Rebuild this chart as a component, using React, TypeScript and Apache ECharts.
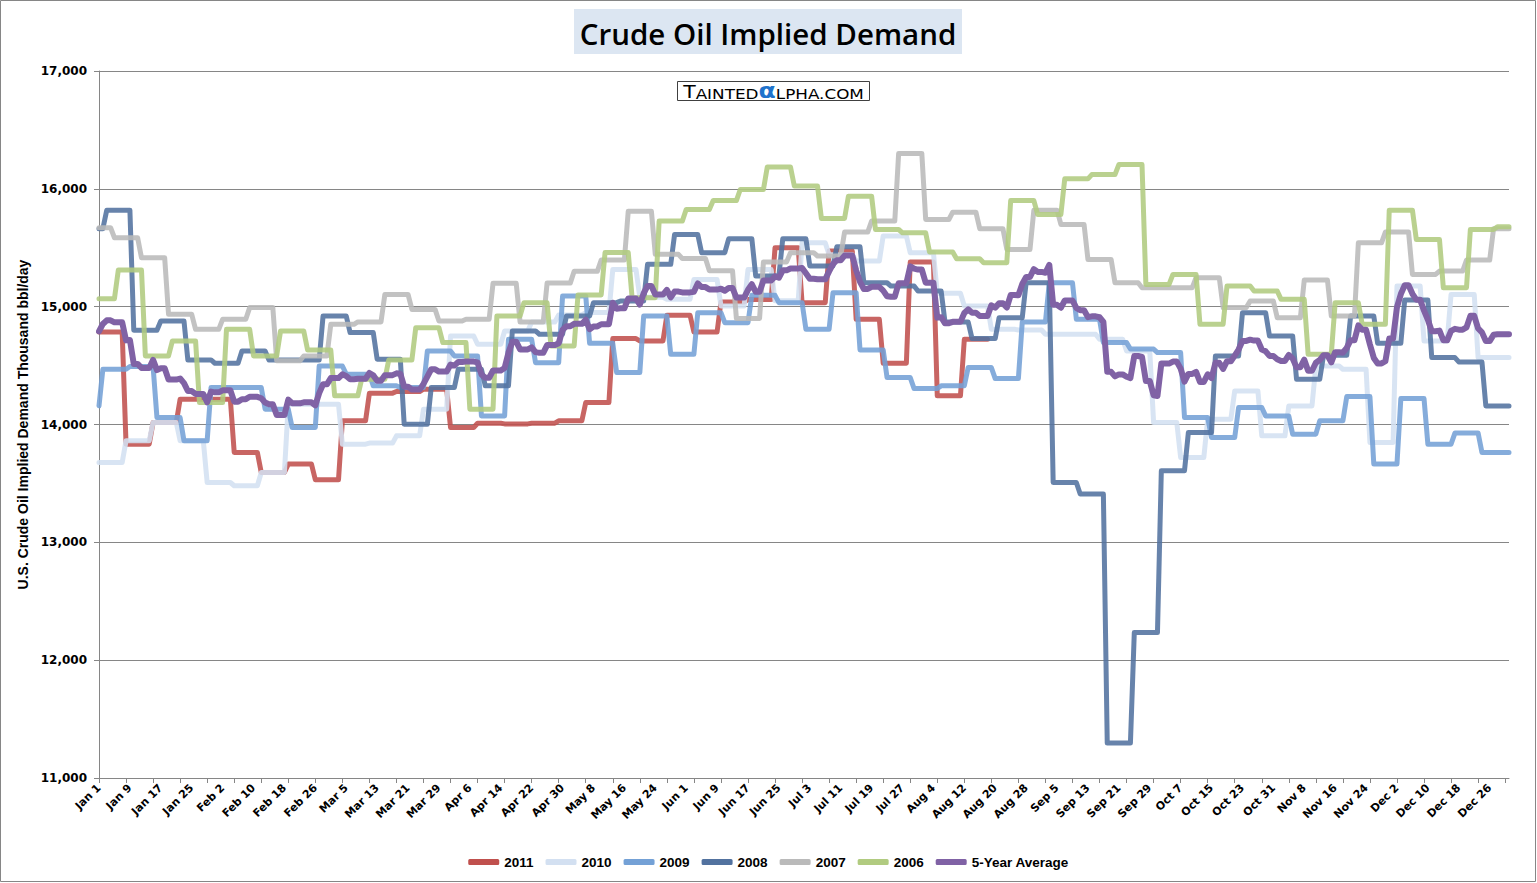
import React, { useEffect, useRef } from "react";
import * as echarts from "echarts";

// Calendar used for the category axis (leap year: Feb 26 + 8 days = Mar 5)
const MONTHS = ["Jan", "Feb", "Mar", "Apr", "May", "Jun", "Jul", "Aug", "Sep", "Oct", "Nov", "Dec"];
const MONTH_DAYS = [31, 29, 31, 30, 31, 30, 31, 31, 30, 31, 30, 31];

const Y_MIN = 11000;
const Y_MAX = 17000;
const Y_STEP = 1000;

const NAMES = ["2011", "2010", "2009", "2008", "2007", "2006", "5-Year Average"];
const COLORS = ["#c0504d", "#d3e0f1", "#74a1d6", "#52729f", "#bababa", "#b1cb80", "#8062a5"];

// Weekly values (thousand bbl/day). Week 0 runs from Jan 1 to the first change day.
const W2011 = [14785, 13833, 14017, 14215, 14215, 13763, 13593, 13664, 13531, 14031, 14266, 14280, 14300, 13975, 14011, 14005, 14011, 14031, 14186, 14729, 14709, 14927, 14785, 15040, 15060, 15500, 15034, 15472, 14893, 14520, 15379, 14243, 14723];
const FIRST_2011 = 7;

const W2010 = [13678, 13862, 14017, 13862, 13508, 13480, 13593, 14172, 14172, 13833, 13842, 13904, 14130, 14751, 14681, 14794, 14870, 14930, 14950, 15316, 15080, 15062, 15230, 15006, 15316, 15050, 15542, 15440, 15387, 15600, 15458, 15113, 15006, 14808, 14802, 14766, 14766, 14723, 14624, 14017, 13720, 14045, 14285, 13904, 14158, 14497, 14469, 13847, 15175, 14709, 15104, 14568, 14568];
const FIRST_2010 = 7;

const W2009 = [14158, 14469, 14492, 14059, 13862, 14314, 14314, 14130, 13975, 14497, 14427, 14328, 14314, 14624, 14582, 14073, 14723, 14525, 15090, 14689, 14441, 14921, 14596, 14949, 14864, 15096, 15034, 14808, 15118, 14633, 14398, 14305, 14328, 14483, 14390, 14870, 15203, 14893, 14695, 14640, 14610, 14059, 13890, 14144, 14073, 13918, 14031, 14237, 13664, 14220, 13833, 13927, 13763, 13763];
const FIRST_2009 = 1;

const W2008 = [15661, 15819, 14800, 14879, 14548, 14520, 14624, 14548, 14548, 14921, 14780, 14554, 14003, 14314, 14469, 14328, 14794, 14766, 14921, 15034, 15048, 15359, 15613, 15458, 15576, 15260, 15576, 15345, 15508, 15203, 15175, 15133, 14870, 14729, 14907, 15203, 13508, 13410, 11296, 12234, 13607, 13932, 14582, 14949, 14751, 14384, 14588, 14921, 14689, 15056, 14568, 14531, 14158];
const FIRST_2008 = 2;

const W2007 = [15670, 15585, 15415, 14935, 14808, 14893, 14992, 14540, 14582, 14850, 14870, 15104, 14977, 14879, 14893, 15198, 14870, 15200, 15300, 15395, 15810, 15444, 15408, 15305, 14900, 15380, 15458, 15430, 15633, 15726, 16300, 15740, 15802, 15661, 15486, 15819, 15698, 15401, 15203, 15161, 15161, 15246, 14992, 15048, 14907, 15226, 14921, 15542, 15633, 15274, 15302, 15395, 15661];
const FIRST_2007 = 4;

const W2006 = [15068, 15311, 14582, 14709, 14186, 14808, 14582, 14794, 14633, 14243, 14384, 14548, 14822, 14695, 14130, 14921, 15034, 14667, 15100, 15460, 15076, 15726, 15825, 15900, 15994, 16186, 16023, 15749, 15938, 15655, 15627, 15463, 15407, 15373, 15900, 15782, 16085, 16121, 16206, 15189, 15274, 14850, 15175, 15133, 15062, 14596, 15034, 14850, 15819, 15571, 15161, 15655, 15678];
const FIRST_2006 = 5;

const AVG_YEARS = 5;

function buildDates(): string[] {
  const out: string[] = [];
  MONTHS.forEach((m, i) => {
    for (let d = 1; d <= MONTH_DAYS[i]; d++) out.push(`${m} ${d}`);
  });
  return out;
}

// Weekly figures held for the 7 days of each week (as in the source's daily sheet)
function holdWeekly(weekly: number[], firstChange: number, days: number): (number | null)[] {
  const out: (number | null)[] = [];
  for (let d = 0; d < days; d++) {
    const idx = d < firstChange ? 0 : Math.floor((d - firstChange) / 7) + 1;
    out.push(idx < weekly.length ? weekly[idx] : null);
  }
  return out;
}

export default function App() {
  const ref = useRef<HTMLDivElement>(null);

  useEffect(() => {
    if (!ref.current) return;
    const chart = echarts.init(ref.current, null, { renderer: "svg" });
    const dates = buildDates();
    const n = dates.length;

    const d2011 = holdWeekly(W2011, FIRST_2011, n);
    const d2010 = holdWeekly(W2010, FIRST_2010, n);
    const d2009 = holdWeekly(W2009, FIRST_2009, n);
    const d2008 = holdWeekly(W2008, FIRST_2008, n);
    const d2007 = holdWeekly(W2007, FIRST_2007, n);
    const d2006 = holdWeekly(W2006, FIRST_2006, n);

    // Rolling 5-year average: the five most recent years that have a value that day
    const newestFirst = [d2011, d2010, d2009, d2008, d2007, d2006];
    const avg = dates.map((_, i) => {
      const vals = newestFirst.map((s) => s[i]).filter((v) => v != null).slice(0, AVG_YEARS) as number[];
      return vals.length ? Math.round(vals.reduce((a, b) => a + b, 0) / vals.length) : null;
    });

    const all = [d2011, d2010, d2009, d2008, d2007, d2006, avg];

    const series = all.map((data, i) => ({
      name: NAMES[i],
      type: "line",
      data,
      symbol: "none",
      connectNulls: false,
      z: 2 + i,
      itemStyle: { color: COLORS[i] },
      lineStyle: {
        color: COLORS[i],
        width: i === 6 ? 6 : 5,
        cap: "round",
        join: "round",
        opacity: i === 6 ? 1 : 0.88,
      },
      emphasis: { disabled: true },
    }));

    const axisFont = { fontFamily: "DejaVu Sans", fontWeight: "bold", color: "#000" };

    const option: any = {
      animation: false,
      backgroundColor: "#ffffff",
      grid: { left: 99, right: 28, top: 71, bottom: 105, containLabel: false },
      xAxis: {
        type: "category",
        data: dates,
        boundaryGap: false,
        axisLine: { show: true, lineStyle: { color: "#868686", width: 1 } },
        axisTick: { show: true, interval: 6, length: 5, lineStyle: { color: "#868686" } },
        axisLabel: { ...axisFont, fontSize: 11, interval: 7, rotate: 45, margin: 8 },
        splitLine: { show: false },
      },
      yAxis: {
        type: "value",
        min: Y_MIN,
        max: Y_MAX,
        interval: Y_STEP,
        name: "U.S. Crude Oil Implied Demand Thousand bbl/day",
        nameLocation: "middle",
        nameGap: 57,
        nameRotate: 90,
        nameTextStyle: { fontFamily: "Liberation Sans", fontWeight: "bold", fontSize: 14, color: "#000" },
        axisLine: { show: true, lineStyle: { color: "#868686", width: 1 } },
        axisTick: { show: true, length: 5, lineStyle: { color: "#868686" } },
        axisLabel: {
          ...axisFont,
          fontSize: 12,
          margin: 12,
          formatter: (v: number) => v.toLocaleString("en-US"),
        },
        splitLine: { show: true, lineStyle: { color: "#868686", width: 1 } },
      },
      legend: {
        data: NAMES,
        left: "center",
        top: 850,
        icon: "roundRect",
        itemWidth: 31,
        itemHeight: 6,
        itemGap: 12,
        textStyle: { fontFamily: "Liberation Sans", fontWeight: "bold", fontSize: 13.5, color: "#000" },
      },
      graphic: [
        {
          type: "rect",
          silent: true,
          shape: { x: 0.5, y: 0.5, width: 1535, height: 881 },
          style: { fill: "rgba(0,0,0,0)", stroke: "#868686", lineWidth: 1 },
          z: -10,
        },
        {
          type: "rect",
          silent: true,
          shape: { x: 574, y: 9, width: 388, height: 45 },
          style: { fill: "#dce6f2" },
        },
        {
          type: "text",
          silent: true,
          x: 768,
          y: 33,
          style: {
            text: "Crude Oil Implied Demand",
            fontFamily: "Open Sans",
            fontWeight: 600,
            fontSize: 29.5,
            fill: "#000",
            textAlign: "center",
            textVerticalAlign: "middle",
          },
        },
        {
          type: "rect",
          silent: true,
          shape: { x: 677.5, y: 81.5, width: 192, height: 19 },
          style: { fill: "#ffffff", stroke: "#404040", lineWidth: 1 },
        },
        {
          type: "group",
          x: 773.5,
          y: 90.5,
          scaleX: 1.2,
          silent: true,
          children: [
            {
              type: "text",
              x: 0,
              y: 0,
              style: {
                text: "{big|T}{sm|AINTED}{al|α}{sm|LPHA.COM}",
                textAlign: "center",
                textVerticalAlign: "middle",
                rich: {
                  big: { fontFamily: "DejaVu Sans", fontSize: 17, fill: "#000", verticalAlign: "bottom" },
                  sm: { fontFamily: "DejaVu Sans", fontSize: 14, fill: "#000", verticalAlign: "bottom" },
                  al: { fontFamily: "DejaVu Sans", fontWeight: "bold", fontSize: 21, fill: "#1f73cc", verticalAlign: "bottom" },
                },
              },
            },
          ],
        },
      ],
      series,
    };

    chart.setOption(option);
    return () => chart.dispose();
  }, []);

  return (
    <div
      ref={ref}
      style={{ position: "absolute", left: 0, top: 0, width: 1537, height: 883, background: "#fff" }}
    />
  );
}
